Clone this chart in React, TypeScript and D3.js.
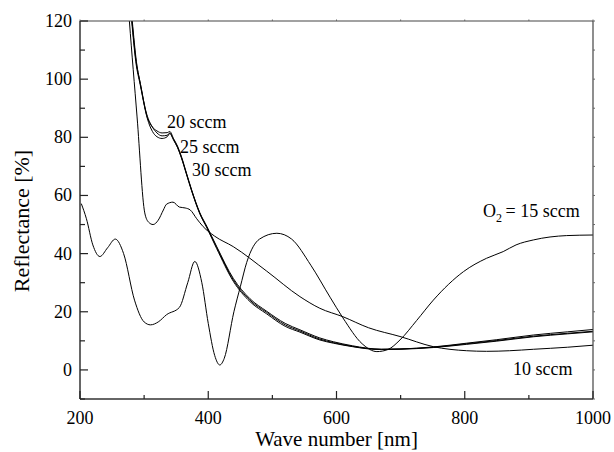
import * as d3 from 'd3';
import React from 'react';

// O2 = 15 sccm
const wl15 = [202, 210, 220, 231, 243, 255, 268, 285, 300, 310, 322, 335, 355, 368, 379, 390, 400, 410, 418, 425, 440, 450, 460, 480, 507, 530, 560, 590, 610, 640, 663, 680, 699, 725, 751, 775, 798, 834, 860, 880, 907, 959, 1000];
const r15 = [57.2, 52, 43, 39, 42, 45, 40, 24, 16.5, 15.5, 16.5, 19, 21.5, 30, 37.3, 30, 16, 5, 1.7, 4, 20, 28.6, 37, 45, 47, 45, 36, 25, 17.9, 9, 6.3, 7, 10.3, 17, 24, 29.5, 33.8, 38.4, 40.7, 43, 44.7, 46.2, 46.4];

// 10 sccm
const wl10 = [272, 277, 289, 301, 307, 314, 322, 330, 335, 345, 355, 364, 372, 382, 392, 410, 439, 491, 543, 574, 610, 650, 699, 751, 803, 834, 870, 907, 960, 1000];
const r10 = [135, 120, 87, 54, 50.8, 50, 51.5, 55, 57, 57.7, 56, 55.7, 55, 52, 49.3, 46, 42.4, 34, 25.2, 21.2, 18.3, 14.5, 11.5, 8, 6.6, 6.4, 6.6, 7.1, 7.8, 8.5];

// 20 sccm
const wl20 = [275, 280.6, 287, 294, 304, 313, 320, 328, 336, 340, 346, 352, 358, 366, 374, 387, 398, 413, 439, 465, 491, 520, 543, 574, 595, 625, 647, 670, 699, 751, 803, 850, 907, 960, 1000];
const r20 = [135, 120, 106, 98, 87.5, 83.5, 82.2, 81.5, 81.6, 82, 79.5, 77, 73.5, 67.7, 62, 54, 49.3, 42.5, 31.5, 24.5, 20.2, 16, 13.8, 11, 9.7, 8.3, 7.5, 7.1, 7.2, 7.9, 9.2, 10.4, 12, 13.1, 13.9];

// 25 sccm
const wl25 = [275, 281, 287, 294, 304, 313, 320, 328, 336, 340, 346, 352, 358, 366, 374, 387, 398, 413, 439, 465, 491, 520, 543, 574, 595, 625, 647, 670, 699, 751, 803, 850, 907, 960, 1000];
const r25 = [135, 120, 107, 98.5, 88, 83.5, 81.5, 80.5, 80.7, 81.5, 79.2, 76.7, 73.2, 67.5, 61.8, 53.8, 49, 42.2, 31, 24, 19.8, 15.5, 13.4, 10.6, 9.4, 8.1, 7.4, 7.1, 7.2, 7.8, 9, 10.1, 11.6, 12.6, 13.3];

// 30 sccm
const wl30 = [275, 281.5, 288, 295, 305, 313, 320, 328, 336, 340, 346, 352, 358, 366, 374, 387, 398, 413, 439, 465, 491, 520, 543, 574, 595, 625, 647, 670, 699, 751, 803, 850, 907, 960, 1000];
const r30 = [136, 120, 106, 97.5, 86.5, 82, 80.2, 79.6, 80.2, 81.3, 79, 76.5, 73, 67.3, 61.6, 53.6, 48.8, 41.8, 30.5, 23.5, 19.3, 15, 13, 10.3, 9.2, 8, 7.3, 7, 7.1, 7.7, 8.8, 9.9, 11.4, 12.4, 13.1];

const xTicks = [200, 400, 600, 800, 1000];
const xMinor = [300, 500, 700, 900];
const yTicks = [0, 20, 40, 60, 80, 100, 120];
const yMinor = [-10, 10, 30, 50, 70, 90, 110];

const W = 614;
const H = 452;
const margin = { top: 21, right: 21, bottom: 53, left: 80 };
const left = margin.left;
const right = W - margin.right;
const top = margin.top;
const bottom = H - margin.bottom;

const FAMILY = "'Liberation Serif', 'Times New Roman', Times, serif";
const txt = (size: number): React.CSSProperties => ({ fontFamily: FAMILY, fontSize: size + 'px' });

export default function App() {
    const x = d3.scaleLinear().domain([200, 1000]).range([left, right]);
    const y = d3.scaleLinear().domain([-10, 120]).range([bottom, top]);

    const series = [
        { wl: wl15, r: r15 },
        { wl: wl10, r: r10 },
        { wl: wl20, r: r20 },
        { wl: wl25, r: r25 },
        { wl: wl30, r: r30 },
    ];

    const line = d3.line<[number, number]>()
        .x(d => x(d[0]))
        .y(d => y(d[1]))
        .curve(d3.curveMonotoneX);

    const allX = [...xTicks, ...xMinor];
    const allY = [...yTicks, ...yMinor];

    return (
        <svg width={W} height={H} fontFamily={FAMILY}
            style={{ position: 'absolute', left: 0, top: 0, background: '#fff', fontFamily: FAMILY }}>
            <defs>
                <clipPath id="plotclip">
                    <rect x={left} y={top} width={right - left} height={bottom - top} />
                </clipPath>
            </defs>

            {/* curves */}
            <g clipPath="url(#plotclip)" fill="none" stroke="#000" strokeWidth={1}>
                {series.map((s, i) => (
                    <path key={i} d={line(s.wl.map((w, j) => [w, s.r[j]] as [number, number])) || ''} />
                ))}
            </g>

            {/* frame */}
            <g stroke="#333" strokeWidth={1.5} fill="none">
                <line x1={left} x2={right} y1={bottom} y2={bottom} />
                <line x1={left} x2={left} y1={top} y2={bottom} />
                <line x1={left} x2={right} y1={top} y2={top} stroke="#444" strokeWidth={1.2} />
                <line x1={right} x2={right} y1={top} y2={bottom} stroke="#444" strokeWidth={1.2} />
            </g>

            {/* bottom / left ticks (inward) */}
            <g stroke="#222" strokeWidth={1.2}>
                {xTicks.map(t => <line key={'xb' + t} x1={x(t)} x2={x(t)} y1={bottom} y2={bottom - 8} />)}
                {xMinor.map(t => <line key={'xm' + t} x1={x(t)} x2={x(t)} y1={bottom} y2={bottom - 4} />)}
                {yTicks.map(t => <line key={'yl' + t} x1={left} x2={left + 8} y1={y(t)} y2={y(t)} />)}
                {yMinor.map(t => <line key={'ym' + t} x1={left} x2={left + 5} y1={y(t)} y2={y(t)} />)}
            </g>
            {/* top and right tiny ticks (outward) */}
            <g stroke="#666" strokeWidth={1}>
                {allX.map(t => <line key={'xt' + t} x1={x(t)} x2={x(t)} y1={top} y2={top - 1.5} />)}
                {allY.map(t => <line key={'yr' + t} x1={right} x2={right + 2} y1={y(t)} y2={y(t)} />)}
            </g>

            {/* tick labels */}
            {xTicks.map(t => (
                <text key={'xl' + t} x={x(t)} y={bottom + 25} textAnchor="middle" fill="#000" style={txt(18)}>{t}</text>
            ))}
            {yTicks.map(t => (
                <text key={'yt' + t} x={left - 8} y={y(t)} dy="0.33em" textAnchor="end" fill="#000" style={txt(18)}>{t}</text>
            ))}

            {/* annotations */}
            <text x={167} y={128} fill="#000" style={txt(18)}>20 sccm</text>
            <text x={180} y={153} fill="#000" style={txt(18)}>25 sccm</text>
            <text x={192} y={176} fill="#000" style={txt(18)}>30 sccm</text>
            <text x={513} y={375} fill="#000" style={txt(18)}>10 sccm</text>
            <text x={483} y={217} fill="#000" style={txt(18)}>
                O<tspan dy={5} style={txt(12)}>2</tspan><tspan dy={-5}>{'\u2009'}= 15 sccm</tspan>
            </text>

            {/* axis titles */}
            <text x={(left + right) / 2} y={446} textAnchor="middle" fill="#000" style={txt(21)}>
                Wave number [nm]
            </text>
            <text transform="translate(29,221) rotate(-90)" textAnchor="middle" fill="#000" style={txt(22)}>
                Reflectance [%]
            </text>
        </svg>
    );
}
